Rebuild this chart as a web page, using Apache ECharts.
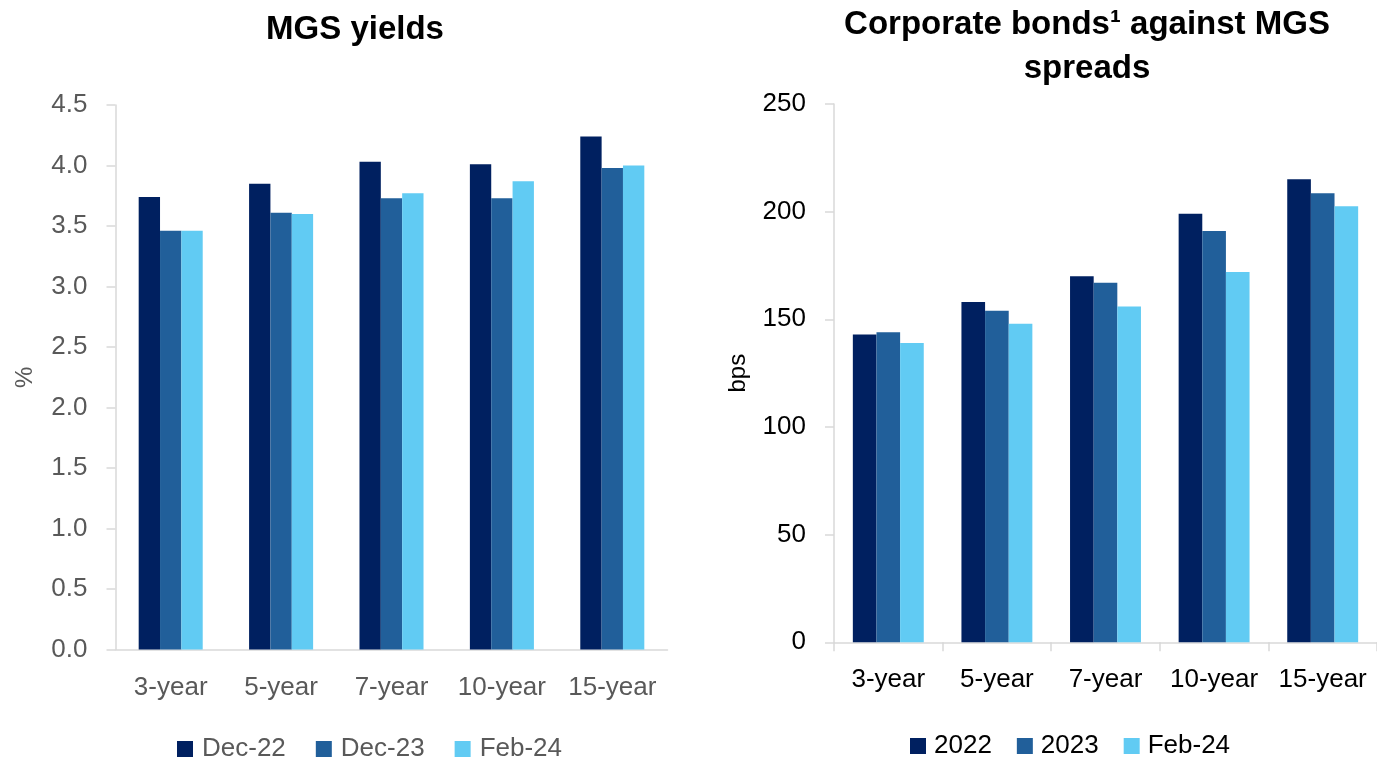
<!DOCTYPE html>
<html>
<head>
<meta charset="utf-8">
<script src="https://cdn.jsdelivr.net/npm/echarts@6/dist/echarts.min.js"></script>
<style>
  html, body { margin: 0; padding: 0; background: #ffffff; }
  #chart { width: 1377px; height: 760px; }
</style>
</head>
<body>
<div id="chart"></div>
<script>
// Tenors shared by both panels
const categories = ['3-year', '5-year', '7-year', '10-year', '15-year'];

// MGS yields (%)
const yieldSeriesNames = ['Dec-22', 'Dec-23', 'Feb-24'];
const yieldDec22 = [3.74, 3.85, 4.03, 4.01, 4.24];
const yieldDec23 = [3.46, 3.61, 3.73, 3.73, 3.98];
const yieldFeb24 = [3.46, 3.60, 3.77, 3.87, 4.00];

// Corporate bond spreads against MGS (bps)
const spreadSeriesNames = ['2022', '2023', 'Feb-24'];
const spread2022 = [143, 158, 170, 199, 215];
const spread2023 = [144, 154, 167, 191, 208.5];
const spreadFeb24 = [139, 148, 156, 172, 202.5];

const colors = ['#002060', '#215F9A', '#61CBF3'];
const FONT = '"Liberation Sans", Arial, sans-serif';
const GREY = '#595959';
const AXIS = '#D9D9D9';

const chart = echarts.init(document.getElementById('chart'), null, { renderer: 'canvas' });

function bar(name, data, idx, axisIdx, gap) {
  return {
    type: 'bar', name: name, data: data,
    xAxisIndex: axisIdx, yAxisIndex: axisIdx,
    barGap: 0, barCategoryGap: gap,
    itemStyle: { color: colors[idx] },
    emphasis: { disabled: true }
  };
}

chart.setOption({
  animation: false,
  textStyle: { fontFamily: FONT },
  title: [
    {
      text: 'MGS yields', left: 350, top: 3, textAlign: 'center',
      textStyle: { fontFamily: FONT, fontSize: 33, fontWeight: 'bold', color: '#000', lineHeight: 44 }
    },
    {
      text: 'Corporate bonds\u00B9 against MGS\nspreads', left: 1082, top: -2, textAlign: 'center',
      textStyle: { fontFamily: FONT, fontSize: 33, fontWeight: 'bold', color: '#000', lineHeight: 44, align: 'center' }
    }
  ],
  legend: [
    {
      data: yieldSeriesNames, left: 172, top: 731, itemWidth: 16, itemHeight: 16, itemGap: 30,
      icon: 'rect',
      textStyle: { fontFamily: FONT, fontSize: 26, color: GREY, padding: [0, 0, 0, 4] }
    },
    {
      data: spreadSeriesNames, left: 905, top: 728, itemWidth: 16, itemHeight: 16, itemGap: 25,
      icon: 'rect',
      textStyle: { fontFamily: FONT, fontSize: 26, color: '#000', padding: [0, 0, 0, 3] }
    }
  ],
  grid: [
    { left: 115.5, top: 105, width: 552, height: 544.5 },
    { left: 834, top: 104, width: 551, height: 538.3 }
  ],
  xAxis: [
    {
      type: 'category', gridIndex: 0, data: categories,
      axisLine: { lineStyle: { color: AXIS, width: 1.5 } },
      axisTick: { show: false },
      axisLabel: { interval: 0, fontFamily: FONT, fontSize: 26, color: GREY, margin: 25 }
    },
    {
      type: 'category', gridIndex: 1, data: categories,
      axisLine: { lineStyle: { color: AXIS, width: 1.5 } },
      axisTick: { show: true, interval: 0, length: 9, lineStyle: { color: AXIS, width: 1.5 } },
      axisLabel: { interval: 0, fontFamily: FONT, fontSize: 26, color: '#000', margin: 25 }
    }
  ],
  yAxis: [
    {
      type: 'value', gridIndex: 0, min: 0, max: 4.5, interval: 0.5,
      name: '%', nameLocation: 'middle', nameRotate: 90, nameGap: 78,
      nameTextStyle: { fontFamily: FONT, fontSize: 24, color: GREY },
      axisLine: { show: true, lineStyle: { color: AXIS, width: 1.5 } },
      axisTick: { show: true, length: 9, lineStyle: { color: AXIS, width: 1.5 } },
      splitLine: { show: false },
      axisLabel: { fontFamily: FONT, fontSize: 26, color: GREY, margin: 28, formatter: v => v.toFixed(1) }
    },
    {
      type: 'value', gridIndex: 1, min: 0, max: 250, interval: 50,
      name: 'bps', nameLocation: 'middle', nameRotate: 90, nameGap: 84,
      nameTextStyle: { fontFamily: FONT, fontSize: 24, color: '#000' },
      axisLine: { show: true, lineStyle: { color: AXIS, width: 1.5 } },
      axisTick: { show: true, length: 9, lineStyle: { color: AXIS, width: 1.5 } },
      splitLine: { show: false },
      axisLabel: { fontFamily: FONT, fontSize: 26, color: '#000', margin: 28 }
    }
  ],
  series: [
    bar(yieldSeriesNames[0], yieldDec22, 0, 0, '42%'),
    bar(yieldSeriesNames[1], yieldDec23, 1, 0, '42%'),
    bar(yieldSeriesNames[2], yieldFeb24, 2, 0, '42%'),
    bar(spreadSeriesNames[0], spread2022, 0, 1, '34.7%'),
    bar(spreadSeriesNames[1], spread2023, 1, 1, '34.7%'),
    bar(spreadSeriesNames[2], spreadFeb24, 2, 1, '34.7%')
  ]
});
</script>
</body>
</html>
